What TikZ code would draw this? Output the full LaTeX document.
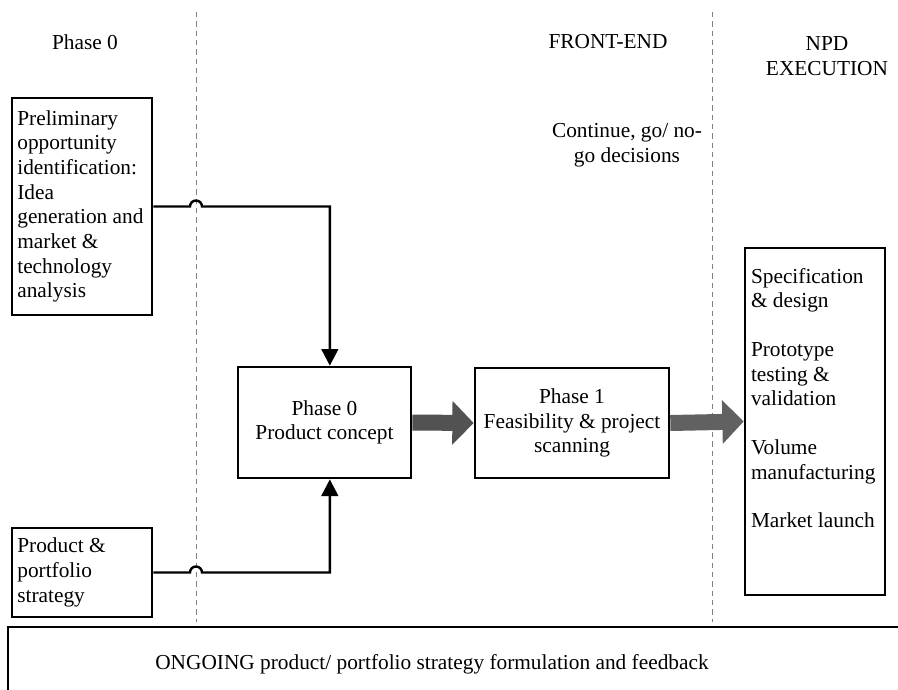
\documentclass[tikz,border=0pt]{standalone}
\usepackage{fontspec}
\setmainfont{Liberation Serif}
\usetikzlibrary{arrows.meta,positioning}
\tikzset{
  basetext/.style = {
    font=\fontsize{16pt}{18.5pt}\selectfont
  },
  sidebox/.style = {
    rectangle,
    draw,
    basetext,
    line width=2pt,
    align=flush left,
    text width=97pt,
    inner xsep=4pt,
    minimum width=105pt
  },
  stagebox/.style = {
    rectangle,
    draw,
    basetext,
    line width=2pt,
    align=center
  },
  headtext/.style = {
    basetext,
    align=center
  },
  phaseline/.style = {
    gray,
    line width=0.6pt,
    dash pattern=on 4pt off 3pt
  },
  feedline/.style = {
    -{Triangle[length=12.5pt,width=12.5pt]},
    line width=1.8pt
  },
  flowthick/.style = {
    -{Triangle[length=16pt,width=32pt]},
    line width=12pt
  }
}

\begin{document}
\begin{tikzpicture}[x=0.75pt,y=-0.75pt]
    \clip (0,0) rectangle (898,689);
    % phase dividers
    \draw[phaseline] (196,12) -- (196,622);
    \draw[phaseline] (712,12) -- (712,622);
    \node[headtext] (hphase) at (85,42) {Phase 0};
    \node[headtext] (hfront) at (608,42) {FRONT-END};
    \node[headtext] (hnpd) at (827,56) {NPD\\EXECUTION};
    \node[headtext] (gonogo) at (627,145) {Continue, go/ no-\\go decisions};
    % boxes
    \node[sidebox, minimum height=162.75pt] (prelim) at (82,206.5)
      {Preliminary\\opportunity\\identification:\\Idea\\generation and\\market \&\\technology\\analysis};
    \node[sidebox, minimum height=66.75pt] (strategy) at (82,572.5)
      {Product \&\\portfolio\\strategy};
    \node[stagebox, minimum width=129.75pt, minimum height=83.25pt] (concept) at (324.5,422.5)
      {Phase 0\\Product concept};
    \node[stagebox, minimum width=145.5pt, minimum height=82.5pt] (feas) at (572,423)
      {Phase 1\\Feasibility \& project\\scanning};
    \node[stagebox, inner sep=0pt, minimum width=105pt, minimum height=260.25pt] (npd) at (815,421.5)
      {\parbox[c][230pt][t]{96pt}{\raggedright
        Specification\\\& design\\[18pt]
        Prototype\\testing \&\\validation\\[18pt]
        Volume\\manufacturing\\[18pt]
        Market launch}};
    \node[headtext] (ongoing) at (432,664)
      {ONGOING product/ portfolio strategy formulation and feedback};
    \draw[line width=2pt] (8,700) |- (910,627);
    % connectors
    \coordinate (hopa) at (190,206.5);
    \coordinate (hopb) at (190,572.5);
    \draw[feedline] (prelim.east) -- (hopa) arc[start angle=180, end angle=360, x radius=6, y radius=6]
      -| ([xshift=4pt]concept.north);
    \draw[feedline] (strategy.east) -- (hopb) arc[start angle=180, end angle=360, x radius=6, y radius=6]
      -| ([xshift=4pt]concept.south);
    \draw[flowthick, color=black!68] (concept.east) -- (feas.west);
    \draw[flowthick, color=black!62] (feas.east) -- (npd.west);
  \end{tikzpicture}
\end{document}
